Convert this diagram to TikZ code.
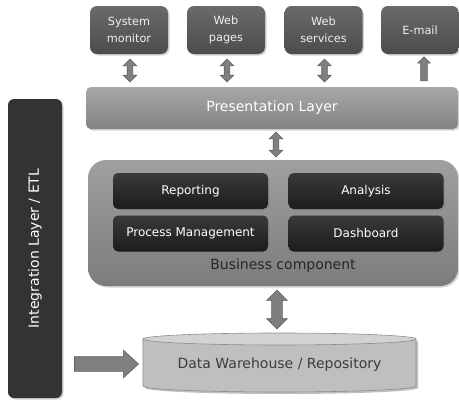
\documentclass[tikz,border=0pt]{standalone}
\usepackage{fontspec}
\setmainfont{DejaVu Sans}
\usetikzlibrary{shapes.arrows,shadows,calc}
\definecolor{topbox}{HTML}{5A5A5A}
\definecolor{topboxlt}{HTML}{6A6A6A}
\definecolor{topboxdk}{HTML}{4C4C4C}
\definecolor{preslt}{HTML}{A8A8A8}
\definecolor{presdk}{HTML}{838383}
\definecolor{buslt}{HTML}{A0A0A0}
\definecolor{busdk}{HTML}{7C7C7C}
\definecolor{innerlt}{HTML}{3A3A3A}
\definecolor{innerdk}{HTML}{1C1C1C}
\definecolor{integ}{HTML}{333333}
\definecolor{arrowfill}{HTML}{7F7F7F}
\definecolor{arrowline}{HTML}{606060}
\definecolor{cylbody}{HTML}{BFBFBF}
\definecolor{cyltop}{HTML}{D2D2D2}
\definecolor{cylline}{HTML}{8C8C8C}
\definecolor{darktext}{HTML}{262626}
\tikzset{
  shadowed/.style={drop shadow={opacity=0.35,shadow xshift=1.5pt,shadow yshift=-1.5pt}},
  topboxstyle/.style={shadowed,rounded corners=7pt,top color=topboxlt,bottom color=topboxdk,
    minimum width=78pt,minimum height=48pt,inner sep=0pt,outer sep=0pt,
    text=white!94!black,font=\fontsize{11.3}{16.5}\selectfont,align=center},
  layerstyle/.style={shadowed,rounded corners=5pt,top color=preslt,bottom color=presdk,
    inner sep=0pt,outer sep=0pt,text=white,font=\fontsize{14}{16}\selectfont},
  busstyle/.style={shadowed,rounded corners=18pt,top color=buslt,bottom color=busdk,
    minimum width=370pt,minimum height=126pt,inner sep=0pt,outer sep=0pt},
  innerstyle/.style={shadowed,rounded corners=5pt,top color=innerlt,bottom color=innerdk,
    minimum width=155pt,minimum height=36pt,inner sep=0pt,outer sep=0pt,
    text=white,font=\fontsize{12}{14}\selectfont},
  integstyle/.style={shadowed,rounded corners=6pt,fill=integ,
    minimum width=299pt,minimum height=54pt,inner sep=0pt,outer sep=0pt,rotate=90,
    text=white,font=\fontsize{14}{16}\selectfont},
  vdarrow/.style={double arrow,shape border rotate=90,fill=arrowfill,draw=arrowline,line width=0.6pt,
    inner sep=2.5pt,double arrow head extend=4pt,double arrow tip angle=90},
  bigdarrow/.style={double arrow,shape border rotate=90,fill=arrowfill,draw=arrowline,line width=0.6pt,
    inner sep=5pt,double arrow head extend=5pt,double arrow tip angle=90},
  uparrow/.style={single arrow,shape border rotate=90,fill=arrowfill,draw=arrowline,line width=0.6pt,
    inner sep=3pt,single arrow head extend=3pt,single arrow tip angle=90},
  rightarrowstyle/.style={single arrow,fill=arrowfill,draw=arrowline,line width=0.6pt,
    inner sep=7pt,single arrow head extend=6.5pt,single arrow tip angle=85},
}
\begin{document}
\begin{tikzpicture}[x=1pt,y=-1pt]
\useasboundingbox (0,0) rectangle (459,402);
% top boxes
\node[topboxstyle] (sm) at (129,30) {System\\monitor};
\node[topboxstyle] (wp) at (226,30) {Web\\pages};
\node[topboxstyle] (ws) at (323.5,30) {Web\\services};
\node[topboxstyle] (em) at (420,30) {E-mail};
% presentation layer
\node[layerstyle,minimum width=372pt,minimum height=42pt] (pl) at (272,108) {Presentation Layer};
% integration
\node[integstyle] (il) at (35,248.5) {Integration Layer / ETL};
% business component
\node[busstyle] (bc) at (273,223) {};
\node[text=darktext,font=\fontsize{14}{16}\selectfont] (bct) at (283,266) {Business component};
\node[innerstyle] (rep) at (190.5,191) {Reporting};
\node[innerstyle] (ana) at (366,191) {Analysis};
\node[innerstyle] (pm) at (190.5,233.5) {Process Management};
\node[innerstyle] (db) at (366,233.5) {Dashboard};
% data warehouse cylinder
\fill[black,opacity=0.25] (145,341) -- (145,388) arc[start angle=180,end angle=0,x radius=136.5,y radius=6] -- (418,341) -- cycle;
\draw[cylline,fill=cylbody,line width=0.6pt] (143,339) -- (143,386) arc[start angle=180,end angle=0,x radius=136.5,y radius=6] -- (416,339) -- cycle;
\draw[cylline,fill=cyltop,line width=0.6pt] (279.5,339) ellipse[x radius=136.5,y radius=6];
\node[text=darktext!90!white,font=\fontsize{14}{16}\selectfont] (dw) at (279.5,365) {Data Warehouse / Repository};
% arrows
\node[vdarrow,minimum height=23pt] (a1) at ($(sm.south)!0.5!(sm.south|-pl.north)+(1,0)$) {};
\node[vdarrow,minimum height=23pt] (a2) at ($(wp.south)!0.5!(wp.south|-pl.north)+(1,0)$) {};
\node[vdarrow,minimum height=23pt] (a3) at ($(ws.south)!0.5!(ws.south|-pl.north)+(1,0)$) {};
\node[uparrow,minimum height=24pt] (a4) at ($(em.south)!0.5!(em.south|-pl.north)+(4,0)$) {};
\node[vdarrow,minimum height=25pt] (a5) at ($(pl.south-|276,0)!0.5!(276,160)$) {};
\node[bigdarrow,minimum height=39pt] (a6) at ($(bc.south-|277,0)!0.5!(277,333)$) {};
\node[rightarrowstyle,minimum height=64pt] (a7) at ($(il.south|-dw)!0.5!(dw.west-|143,0)+(0,-1)$) {};
\end{tikzpicture}
\end{document}
